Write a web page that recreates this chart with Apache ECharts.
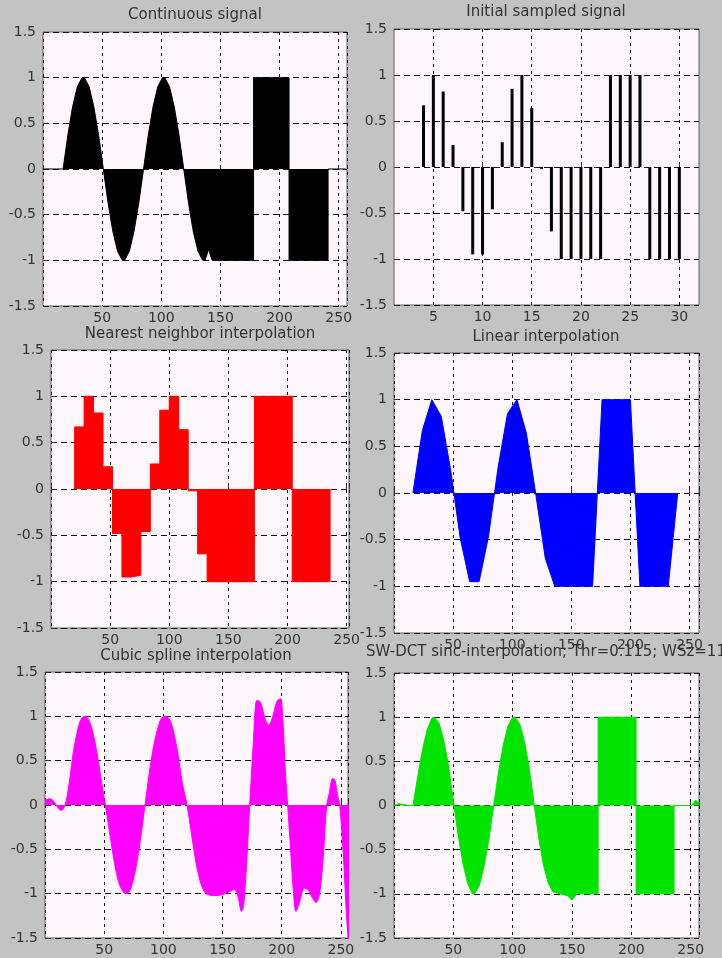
<!DOCTYPE html>
<html>
<head>
<meta charset="utf-8">
<script src="https://cdn.jsdelivr.net/npm/echarts@6.0.0/dist/echarts.min.js"></script>
<style>
  html, body { margin: 0; padding: 0; background: #c3c3c3; }
  #main { width: 722px; height: 958px; }
</style>
</head>
<body>
<div id="main"></div>
<script>
// titles of the six panels
const titles = [
  'Continuous signal',
  'Initial sampled signal',
  'Nearest neighbor interpolation',
  'Linear interpolation',
  'Cubic spline interpolation',
  'SW-DCT sinc-interpolation; Thr=0.115; WSz=11'
];

// continuous signal (black)
const contX = [0, 17, 21, 25, 29, 33, 35, 39, 43, 47, 51, 55, 59, 63, 67, 69, 73, 77, 81, 85, 89, 93, 97, 101, 103, 107, 111, 115, 119, 123, 127, 131, 135, 137, 140, 143, 178, 178, 208, 208, 241, 241, 256];
const contY = [0, 0, 0.37, 0.68, 0.9, 1, 1, 0.9, 0.68, 0.37, 0, -0.37, -0.68, -0.9, -1, -1, -0.9, -0.68, -0.37, 0, 0.37, 0.68, 0.9, 1, 1, 0.9, 0.68, 0.37, 0, -0.37, -0.68, -0.9, -1, -1, -0.88, -1, -1, 1, 1, -1, -1, 0, 0];

// sampled signal (stems)
const sampleIdx = [1, 2, 3, 4, 5, 6, 7, 8, 9, 10, 11, 12, 13, 14, 15, 16, 17, 18, 19, 20, 21, 22, 23, 24, 25, 26, 27, 28, 29, 30, 31, 32];
const sampleVal = [0, 0, 0, 0.67, 1, 0.82, 0.24, -0.48, -0.95, -0.95, -0.46, 0.27, 0.85, 1, 0.64, -0.02, -0.7, -1, -1, -1, -1, -1, 1, 1, 1, 1, -1, -1, -1, -1, 0, 0];
const sampleTicks = [5, 10, 15, 20, 25, 30];

// nearest neighbor (red), step edges
const nearestX = [20, 20, 28, 36, 44, 52, 60, 68, 76, 84, 92, 100, 108, 116, 124, 132, 172, 204, 236];
const nearestY = [0, 0.67, 1, 0.82, 0.24, -0.48, -0.95, -0.93, -0.46, 0.27, 0.85, 1, 0.64, -0.02, -0.7, -1, 1, -1, 0];

// linear (blue)
const linearX = [16, 24, 32, 40, 48, 56, 64, 72, 80, 88, 96, 104, 112, 120, 128, 136, 168, 176, 200, 208, 232, 240];
const linearY = [0, 0.67, 1, 0.82, 0.24, -0.48, -0.95, -0.95, -0.46, 0.27, 0.85, 1, 0.64, -0.02, -0.7, -1, -1, 1, 1, -1, -1, 0];

// cubic spline (magenta)
const cubicX = [0, 3, 6, 9, 12, 14, 16, 18, 21, 24, 28, 31, 34, 37, 40, 44, 48, 51, 54, 58, 62, 66, 69, 72, 76, 80, 84, 88, 92, 96, 99, 102, 105, 108, 112, 116, 120, 124, 128, 132, 136, 141, 146, 152, 157, 160, 163, 166, 168, 171, 173, 176, 179, 182, 186, 189, 192, 196, 199, 201, 203, 205, 207, 210, 212, 215, 219, 222, 226, 229, 232, 235, 238, 240, 243, 245, 247, 249, 252, 255, 257];
const cubicY = [0.05, 0.07, 0.06, 0.01, -0.05, -0.06, -0.03, 0.05, 0.3, 0.6, 0.87, 0.98, 1.0, 0.96, 0.84, 0.58, 0.24, 0, -0.26, -0.6, -0.86, -0.98, -1.0, -0.96, -0.76, -0.45, -0.05, 0.35, 0.68, 0.9, 0.99, 1.0, 0.97, 0.86, 0.6, 0.25, 0, -0.35, -0.68, -0.9, -1.0, -1.02, -1.02, -1.0, -0.97, -0.95, -1.03, -1.2, -1.12, -0.5, 0, 0.7, 1.18, 1.16, 0.97, 0.9, 0.98, 1.17, 1.2, 0.95, 0.4, 0, -0.4, -1.0, -1.2, -1.1, -0.94, -0.95, -1.05, -1.1, -1.0, -0.6, 0, 0.12, 0.3, 0.28, 0.12, 0, -0.55, -1.3, -1.6];

// SW-DCT sinc (green)
const sincX = [0, 4, 8, 12, 16, 20, 24, 28, 32, 34, 38, 42, 46, 50, 54, 58, 62, 66, 68, 72, 76, 80, 84, 88, 92, 96, 100, 102, 106, 110, 114, 118, 122, 126, 130, 134, 140, 146, 150, 154, 172, 172, 204, 204, 236, 236, 251, 254, 257];
const sincY = [0, 0.02, 0.01, 0, 0, 0.33, 0.63, 0.86, 0.99, 1, 0.93, 0.73, 0.45, 0.05, -0.33, -0.65, -0.88, -1, -1, -0.9, -0.68, -0.38, 0, 0.37, 0.68, 0.9, 1, 1, 0.92, 0.72, 0.42, 0.02, -0.37, -0.68, -0.88, -0.98, -1, -1.02, -1.07, -1, -1, 1, 1, -1, -1, 0, 0, 0.06, 0.03];

const xRanges = [[0, 257], [1, 32], [0, 252], [0, 258], [0, 256], [0, 257]];

const boxes = [
  { left: 43, top: 32, width: 304, height: 274 },
  { left: 394, top: 29, width: 305, height: 276 },
  { left: 51, top: 350, width: 298, height: 278 },
  { left: 394, top: 353, width: 305, height: 280 },
  { left: 45, top: 672, width: 303, height: 266 },
  { left: 394, top: 673, width: 305, height: 265 }
];
const titlePos = [[195, 8], [546, 5], [200, 327], [546, 330], [196, 649], [546, 645]];

const FONT = 'DejaVu Sans';
const zip = (xs, ys) => xs.map((x, i) => [x, ys[i]]);

const chart = echarts.init(document.getElementById('main'));

const grids = boxes.map(b => Object.assign({
  show: true,
  backgroundColor: '#fdf6fb',
  borderColor: '#606060',
  borderWidth: 1,
  containLabel: false
}, b));

const xAxes = xRanges.map((r, i) => {
  const ax = {
    gridIndex: i,
    type: 'value',
    min: r[0],
    max: r[1],
    axisLine: { show: false },
    axisTick: { inside: true, length: 4, lineStyle: { color: '#333' } },
    axisLabel: {
      margin: 5, fontSize: 14, color: '#333', fontFamily: FONT,
      formatter: v => (v === 0 ? '' : String(v))
    },
    splitLine: { show: true, lineStyle: { type: [3, 4], color: '#111', width: 1 } }
  };
  if (i === 1) {
    ax.axisTick.customValues = sampleTicks;
    ax.axisLabel.customValues = sampleTicks;
  } else {
    ax.interval = 50;
    ax.axisLabel.formatter = v => (v % 50 === 0 && v !== 0 ? String(v) : '');
  }
  return ax;
});

const yAxes = boxes.map((b, i) => ({
  gridIndex: i,
  type: 'value',
  min: -1.5,
  max: 1.5,
  interval: 0.5,
  axisLine: { show: false },
  axisTick: { inside: true, length: 4, lineStyle: { color: '#333' } },
  axisLabel: { margin: 7, fontSize: 14, color: '#333', fontFamily: FONT },
  splitLine: { show: true, lineStyle: { type: [6, 4], color: '#111', width: 1 } }
}));

function area(idx, data, color, extra) {
  return Object.assign({
    type: 'line',
    xAxisIndex: idx,
    yAxisIndex: idx,
    data: data,
    symbol: 'none',
    lineStyle: { color: color, width: 1 },
    areaStyle: { color: color, opacity: 1 },
    animation: false
  }, extra || {});
}

const option = {
  backgroundColor: '#c3c3c3',
  animation: false,
  title: titles.map((t, i) => ({
    text: t,
    left: titlePos[i][0],
    top: titlePos[i][1],
    textAlign: 'center',
    padding: 0,
    textStyle: { fontSize: 15, fontWeight: 'normal', color: '#333', fontFamily: FONT }
  })),
  grid: grids,
  xAxis: xAxes,
  yAxis: yAxes,
  series: [
    area(0, zip(contX, contY), '#000000'),
    {
      type: 'bar',
      xAxisIndex: 1,
      yAxisIndex: 1,
      data: zip(sampleIdx, sampleVal),
      barWidth: 3,
      itemStyle: { color: '#000000' },
      animation: false
    },
    area(2, zip(nearestX, nearestY), '#ff0000', { step: 'end' }),
    area(3, zip(linearX, linearY), '#0000ff'),
    area(4, zip(cubicX, cubicY), '#ff00ff', { smooth: 0.3 }),
    area(5, zip(sincX, sincY), '#00e400')
  ]
};

chart.setOption(option);
</script>
</body>
</html>
